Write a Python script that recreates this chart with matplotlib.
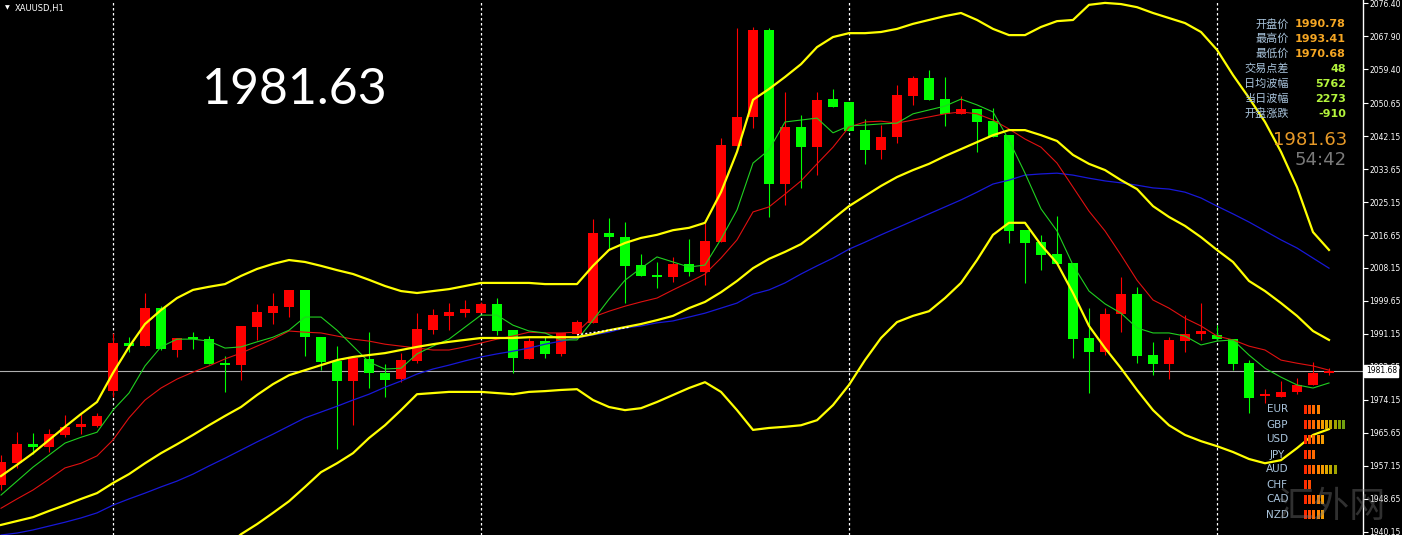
import numpy as np
import matplotlib.pyplot as plt

# XAUUSD H1 candles (red = up, green = down)
opens = [1952.19, 1957.87, 1962.69, 1962.07, 1965.09, 1967.23, 1967.48, 1976.51, 1988.81, 1988.11,
         1997.91, 1987.00, 1990.43, 1989.84, 1983.73, 1983.14, 1993.01, 1996.62, 1998.01, 2002.47,
         1990.28, 1984.24, 1979.09, 1984.68, 1981.00, 1979.53, 1984.24, 1992.16, 1995.85, 1996.47,
         1996.62, 1998.86, 1992.16, 1984.68, 1989.32, 1985.97, 1991.13, 1994.04, 2017.09, 2016.06,
         2008.92, 2006.34, 2005.90, 2009.18, 2007.19, 2014.85, 2039.60, 2047.16, 2069.51, 2029.81,
         2044.58, 2039.42, 2051.72, 2051.03, 2043.73, 2038.57, 2041.85, 2052.57, 2057.06, 2051.65,
         2047.86, 2049.14, 2046.05, 2042.44, 2017.94, 2014.93, 2011.76, 2009.36, 1990.02, 1986.56,
         1996.21, 2001.44, 1985.71, 1983.39, 1989.32, 1991.13, 1990.78, 1989.84, 1983.73, 1975.14,
         1974.81, 1976.25, 1977.98, 1981.00]
highs = [1959.93, 1965.86, 1965.60, 1966.63, 1970.24, 1970.50, 1970.76, 1991.46, 1990.43, 2001.70,
         1998.35, 1990.17, 1991.72, 1990.61, 1985.45, 1993.19, 1998.86, 2001.78, 2002.47, 2002.47,
         1990.28, 1988.03, 1984.94, 1991.72, 1983.39, 1986.15, 1996.62, 1997.50, 1999.20, 1999.89,
         1999.38, 2000.33, 1992.16, 1990.02, 1990.28, 1991.31, 1994.74, 2020.70, 2020.96, 2020.09,
         2011.76, 2009.77, 2010.91, 2015.55, 2019.67, 2041.59, 2069.95, 2070.37, 2069.95, 2053.61,
         2047.60, 2053.61, 2054.30, 2051.03, 2046.49, 2045.02, 2055.33, 2057.65, 2059.20, 2057.47,
         2052.50, 2049.14, 2049.32, 2042.44, 2017.94, 2016.65, 2021.55, 2009.36, 1997.75, 1997.75,
         2005.75, 2003.32, 1989.14, 1990.43, 1996.03, 1999.20, 1993.41, 1989.84, 1984.42, 1976.95,
         1979.01, 1979.70, 1983.91, 1982.28]
lows = [1950.90, 1956.58, 1960.19, 1960.70, 1964.65, 1965.34, 1967.15, 1974.96, 1986.56, 1988.11,
        1987.00, 1985.19, 1987.18, 1983.39, 1976.25, 1979.27, 1989.58, 1993.71, 1995.59, 1985.45,
        1981.85, 1961.40, 1967.67, 1977.13, 1974.96, 1978.67, 1983.57, 1991.05, 1992.16, 1995.59,
        1996.54, 1990.87, 1981.00, 1984.68, 1984.86, 1985.45, 1990.87, 1993.89, 2012.79, 1999.20,
        2006.08, 2002.91, 2004.62, 2006.08, 2003.76, 2014.85, 2039.60, 2044.17, 2021.38, 2024.39,
        2028.70, 2032.13, 2049.74, 2043.55, 2034.96, 2036.17, 2040.30, 2050.18, 2051.47, 2044.76,
        2047.86, 2038.13, 2042.00, 2014.67, 2004.20, 2007.63, 2009.18, 1984.86, 1975.99, 1985.71,
        1991.72, 1983.57, 1980.56, 1979.45, 1986.56, 1989.58, 1989.58, 1981.85, 1970.68, 1973.34,
        1974.81, 1975.58, 1977.98, 1980.56]
closes = [1958.12, 1962.76, 1962.07, 1965.34, 1967.23, 1967.92, 1970.06, 1988.88, 1988.11, 1997.91,
          1987.18, 1990.17, 1989.84, 1983.39, 1983.14, 1993.19, 1996.88, 1998.35, 2002.47, 1990.28,
          1983.99, 1979.09, 1984.94, 1981.00, 1979.27, 1984.42, 1992.42, 1996.03, 1996.88, 1997.50,
          1998.86, 1991.98, 1985.02, 1989.32, 1985.97, 1991.31, 1994.30, 2017.25, 2016.22, 2008.66,
          2006.08, 2005.90, 2009.10, 2007.19, 2015.19, 2039.86, 2047.16, 2069.51, 2029.81, 2044.58,
          2039.42, 2051.47, 2049.74, 2043.55, 2038.57, 2041.85, 2052.75, 2057.06, 2051.47, 2047.86,
          2049.14, 2045.87, 2042.00, 2017.77, 2014.67, 2011.50, 2009.18, 1989.84, 1986.56, 1996.29,
          2001.44, 1985.53, 1983.39, 1989.58, 1991.13, 1991.98, 1989.84, 1983.39, 1974.55, 1975.66,
          1976.25, 1977.98, 1981.00, 1981.63]

# indicator values read per bar
bb_upper = [1954.5, 1957.4, 1960.4, 1963.8, 1967.2, 1970.5, 1973.6, 1981.1, 1987.8, 1993.7,
            1997.3, 2000.4, 2002.5, 2003.3, 2004.0, 2006.1, 2007.9, 2009.2, 2010.2, 2009.7,
            2008.7, 2007.6, 2006.6, 2005.1, 2003.5, 2002.2, 2001.7, 2002.2, 2002.7, 2003.5,
            2004.3, 2004.3, 2004.3, 2004.3, 2004.0, 2004.0, 2004.0, 2008.7, 2012.8, 2014.6,
            2015.9, 2016.7, 2017.9, 2018.5, 2019.8, 2027.7, 2038.1, 2051.5, 2054.3, 2057.4,
            2060.7, 2065.1, 2067.7, 2068.7, 2068.7, 2069.0, 2069.8, 2071.1, 2072.1, 2073.1,
            2073.9, 2072.1, 2069.8, 2068.2, 2068.2, 2070.3, 2071.8, 2072.1, 2076.0, 2076.5,
            2076.2, 2075.4, 2073.9, 2072.6, 2071.3, 2069.0, 2064.4, 2057.9, 2052.0, 2045.8,
            2038.1, 2029.0, 2017.4, 2012.8]
bb_mid = [1941.9, 1942.9, 1943.9, 1945.5, 1947.0, 1948.6, 1950.1, 1952.7, 1955.0, 1957.8,
          1960.4, 1962.7, 1965.1, 1967.6, 1970.0, 1972.3, 1975.4, 1978.2, 1980.5, 1981.8,
          1983.1, 1984.4, 1985.2, 1985.7, 1986.2, 1987.0, 1987.8, 1988.5, 1989.1, 1989.6,
          1990.1, 1990.1, 1990.1, 1990.3, 1990.3, 1990.3, 1990.3, 1991.1, 1992.1, 1992.9,
          1993.7, 1994.7, 1995.8, 1997.8, 1999.4, 2001.9, 2004.8, 2008.1, 2010.5, 2012.3,
          2014.3, 2017.4, 2020.8, 2024.1, 2026.7, 2029.3, 2031.6, 2033.4, 2035.0, 2037.0,
          2038.8, 2040.6, 2042.4, 2043.7, 2043.7, 2042.4, 2040.9, 2037.3, 2035.0, 2033.4,
          2030.8, 2028.5, 2024.1, 2021.3, 2019.0, 2016.1, 2012.8, 2009.7, 2004.8, 2002.2,
          1999.1, 1995.8, 1991.9, 1989.6]
bb_lower = [1929.2, 1928.4, 1927.4, 1927.2, 1926.9, 1926.6, 1926.6, 1924.3, 1922.3, 1922.0,
            1923.5, 1925.1, 1927.7, 1932.1, 1935.9, 1939.5, 1942.1, 1945.0, 1948.0, 1951.7,
            1955.5, 1957.8, 1960.4, 1964.3, 1967.6, 1971.5, 1975.6, 1975.9, 1976.2, 1976.2,
            1976.2, 1975.9, 1975.6, 1976.2, 1976.4, 1976.7, 1976.9, 1974.1, 1972.3, 1971.5,
            1972.0, 1973.6, 1975.4, 1977.2, 1978.7, 1976.2, 1971.5, 1966.4, 1966.9, 1967.2,
            1967.6, 1968.9, 1972.8, 1978.0, 1984.4, 1990.1, 1994.2, 1995.8, 1997.0, 2000.4,
            2004.3, 2010.2, 2016.7, 2019.8, 2019.8, 2014.1, 2009.4, 2001.7, 1993.2, 1987.5,
            1982.3, 1976.7, 1971.5, 1967.6, 1965.1, 1963.5, 1962.2, 1960.7, 1958.9, 1957.8,
            1958.6, 1961.7, 1965.1, 1966.6]
ma_fast = [1949.6, 1953.2, 1956.8, 1959.9, 1963.0, 1964.5, 1965.8, 1971.5, 1975.9, 1982.9,
           1987.8, 1989.8, 1989.8, 1989.3, 1987.5, 1987.8, 1989.1, 1990.3, 1992.1, 1995.5,
           1995.5, 1992.1, 1988.0, 1983.9, 1982.1, 1982.3, 1986.0, 1988.0, 1989.8, 1992.9,
           1996.0, 1996.0, 1993.4, 1991.9, 1991.4, 1989.6, 1989.6, 1994.7, 2000.1, 2005.0,
           2008.1, 2011.0, 2009.7, 2008.4, 2008.9, 2015.6, 2023.1, 2035.2, 2038.6, 2045.8,
           2046.3, 2046.8, 2043.0, 2044.8, 2045.0, 2045.3, 2045.5, 2047.9, 2048.9, 2049.9,
           2051.7, 2050.2, 2048.4, 2041.1, 2032.6, 2023.4, 2017.7, 2008.9, 2002.2, 1998.9,
           1996.5, 1992.7, 1991.4, 1991.4, 1990.6, 1988.3, 1989.3, 1989.6, 1985.7, 1982.3,
           1980.0, 1978.0, 1977.2, 1978.5]
ma_slow = [1946.2, 1948.6, 1950.9, 1953.7, 1956.6, 1957.8, 1959.7, 1963.8, 1969.5, 1974.1,
           1977.2, 1979.5, 1981.3, 1982.9, 1984.7, 1986.2, 1988.0, 1989.8, 1991.9, 1991.6,
           1991.4, 1990.6, 1989.8, 1989.3, 1988.5, 1988.0, 1987.5, 1987.0, 1987.0, 1987.8,
           1988.8, 1989.8, 1990.6, 1991.6, 1991.4, 1991.4, 1991.6, 1995.5, 1997.0, 1998.3,
           1999.4, 2000.4, 2002.5, 2004.5, 2006.6, 2010.7, 2015.4, 2022.6, 2023.9, 2027.2,
           2030.6, 2035.0, 2039.3, 2044.5, 2045.8, 2046.0, 2045.5, 2046.3, 2047.1, 2047.9,
           2048.4, 2047.9, 2046.3, 2044.0, 2041.4, 2039.3, 2035.2, 2029.0, 2022.8, 2017.7,
           2011.5, 2005.0, 1999.9, 1997.8, 1995.2, 1993.2, 1990.6, 1989.6, 1988.0, 1987.0,
           1984.4, 1983.6, 1982.9, 1981.8]
ma_long = [1939.3, 1939.8, 1940.6, 1941.6, 1942.6, 1943.7, 1945.0, 1947.0, 1948.6, 1950.1,
           1951.7, 1953.2, 1955.0, 1957.1, 1959.1, 1961.2, 1963.3, 1965.3, 1967.4, 1969.5,
           1971.0, 1972.5, 1974.1, 1975.6, 1977.4, 1979.0, 1980.8, 1982.1, 1983.1, 1984.2,
           1985.2, 1986.0, 1986.7, 1987.5, 1988.5, 1989.3, 1990.1, 1990.9, 1991.6, 1992.7,
           1993.2, 1994.0, 1994.5, 1995.5, 1996.5, 1997.8, 1999.1, 2001.4, 2002.5, 2004.3,
           2006.6, 2008.7, 2010.7, 2013.0, 2014.8, 2016.7, 2018.5, 2020.3, 2022.1, 2023.9,
           2025.7, 2027.7, 2029.8, 2030.8, 2032.1, 2032.4, 2032.6, 2032.1, 2031.3, 2030.6,
           2030.1, 2029.5, 2028.8, 2028.5, 2027.7, 2026.2, 2024.1, 2022.1, 2020.0, 2017.7,
           2015.4, 2013.3, 2010.7, 2008.1]

day_starts = [7, 30, 53, 76]
trend_x = [36.0, 39.3]
trend_y = [1990.9, 1992.9]
price_line = 1981.68
yticks = [1940.15, 1948.65, 1957.15, 1965.65, 1974.15, 1982.65, 1991.15, 1999.65, 2008.15,
          2016.65, 2025.15, 2033.65, 2042.15, 2050.65, 2059.40, 2067.90, 2076.40]

info_labels = ['开盘价', '最高价', '最低价', '交易点差', '日均波幅', '当日波幅', '开盘涨跌']
info_values = ['1990.78', '1993.41', '1970.68', '48', '5762', '2273', '-910']
currencies = ['EUR', 'GBP', 'USD', 'JPY', 'AUD', 'CHF', 'CAD', 'NZD']
strength = [4, 10, 5, 3, 8, 2, 5, 5]
block_colors = ['#ff2a00', '#ff4a00', '#ff6a00', '#ff8400', '#f59a00', '#e0a800',
                '#c0a800', '#a0a400', '#80a000', '#70a010']

W, H = 1402, 535
fig = plt.figure(figsize=(W / 100, H / 100), dpi=100, facecolor='black')
ax = fig.add_axes([0, 0, 1363 / W, 1])
ax.set_facecolor('black')

o = np.array(opens); h = np.array(highs); l = np.array(lows); c = np.array(closes)
x = np.arange(len(c))
cols = np.where(c >= o, '#ff0000', '#00ff00')

ax.vlines(x, l, h, colors=cols, lw=0.8, zorder=2)
ax.bar(x, np.maximum(np.abs(c - o), 0.5), bottom=np.minimum(o, c), width=0.68,
       color=cols, lw=0, zorder=3)

ax.plot(x, ma_long, color='#1818d8', lw=0.9, zorder=4)
ax.plot(x, ma_slow, color='#e01010', lw=0.8, zorder=4)
ax.plot(x, ma_fast, color='#20d020', lw=0.8, zorder=4)
for band in (bb_upper, bb_mid, bb_lower):
    ax.plot(x, band, color='#ffff00', lw=1.6, zorder=5)
ax.plot(trend_x, trend_y, color='white', lw=1, ls=(0, (1.5, 1.5)), zorder=6)

for d in day_starts:
    ax.axvline(d, color='white', lw=0.9, ls=(0, (2, 2)), zorder=1)
ax.axhline(price_line, color='#b0b0b0', lw=0.8, zorder=1)

ax.set_xlim(-1 / 16, 1362 / 16)
ax.set_ylim(1939.30, 2077.25)
ax.set_xticks([])
ax.yaxis.tick_right()
ax.set_yticks(yticks)
ax.set_yticklabels([f'{v:.2f}' for v in yticks])
ax.tick_params(axis='y', colors='white', labelsize=5.5, length=3.5, width=0.8, pad=1)
for s in ['top', 'bottom', 'left']:
    ax.spines[s].set_visible(False)
ax.spines['right'].set_color('white')
ax.spines['right'].set_linewidth(1)

ax.text(1.002, price_line, f'{price_line:.2f}', transform=ax.get_yaxis_transform(),
        ha='left', va='center', fontsize=5.5, color='black', zorder=10,
        bbox=dict(boxstyle='square,pad=0.2', fc='white', ec='white'))

fig.text(5 / W, 1 - 8 / H, '▼', fontsize=4.5, color='white', va='center')
fig.text(15 / W, 1 - 8 / H, 'XAUUSD,H1', fontsize=6, color='white', va='center')
fig.text(295 / W, 1 - 90 / H, '1981.63', fontsize=36, color='white',
         family='Lato', ha='center', va='center')

cjk = ['Noto Sans CJK SC', 'DejaVu Sans']
for i, (lab, val) in enumerate(zip(info_labels, info_values)):
    yy = 1 - (24 + 15 * i) / H
    fig.text(1289 / W, yy, lab, fontsize=8, color='#a9c4dc', family=cjk, ha='right', va='center')
    vcol = '#f5a623' if i < 3 else '#b4f53c'
    fig.text(1346 / W, yy, val, fontsize=8, color=vcol, weight='bold', ha='right', va='center')
fig.text(1347 / W, 1 - 140 / H, '1981.63', fontsize=13, color='#e89a28', ha='right', va='center')
fig.text(1347 / W, 1 - 160 / H, '54:42', fontsize=13, color='#7a7a7a', ha='right', va='center')

cs = fig.add_axes([1303 / W, 1 - 522 / H, 47.3 / W, 120 / H])
cs.set_xlim(0, 11)
cs.set_ylim(7.5, -0.5)
cs.axis('off')
for i, n in enumerate(strength):
    cs.barh([i] * n, 0.7, left=np.arange(n) + 0.15, height=0.55, color=block_colors[:n])
    cs.text(-6.0, i, currencies[i], fontsize=7.5, color='#a9c4dc', ha='center', va='center')

fig.text(1332 / W, 1 - 507 / H, '汇外网', fontsize=26, color='#7a7a7a', alpha=0.4,
         family=cjk, ha='center', va='center')

fig.savefig('out.png', dpi=100, facecolor='black')
